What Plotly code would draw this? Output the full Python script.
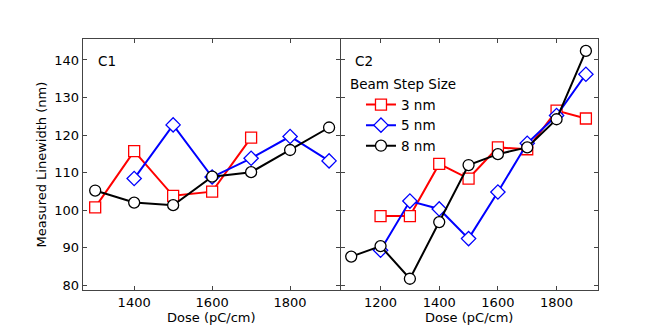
import plotly.graph_objects as go

c1_x_3 = [1300, 1400, 1500, 1600, 1700]
c1_y_3 = [100.7, 115.7, 103.8, 104.9, 119.3]
c1_x_5 = [1400, 1500, 1600, 1700, 1800, 1900]
c1_y_5 = [108.4, 122.7, 108.8, 113.8, 119.6, 113.1]
c1_x_8 = [1300, 1400, 1500, 1600, 1700, 1800, 1900]
c1_y_8 = [105.2, 102.0, 101.3, 108.9, 110.1, 116.0, 122.0]

c2_x_3 = [1200, 1300, 1400, 1500, 1600, 1700, 1800, 1900]
c2_y_3 = [98.4, 98.4, 112.3, 108.4, 116.7, 116.2, 126.5, 124.4]
c2_x_5 = [1200, 1300, 1400, 1500, 1600, 1700, 1800, 1900]
c2_y_5 = [89.3, 102.4, 100.3, 92.4, 104.8, 117.8, 125.2, 136.2]
c2_x_8 = [1100, 1200, 1300, 1400, 1500, 1600, 1700, 1800, 1900]
c2_y_8 = [87.6, 90.4, 81.7, 96.8, 112.0, 114.9, 116.7, 124.2, 142.4]

series_names = ["3 nm", "5 nm", "8 nm"]
colors = ["red", "blue", "black"]
symbols = ["square", "diamond", "circle"]
sizes = [11, 11, 11]

fig = go.Figure()
c1 = [(c1_x_3, c1_y_3), (c1_x_5, c1_y_5), (c1_x_8, c1_y_8)]
c2 = [(c2_x_3, c2_y_3), (c2_x_5, c2_y_5), (c2_x_8, c2_y_8)]

for panel, data in enumerate([c1, c2]):
    for i, (x, y) in enumerate(data):
        m = dict(symbol=symbols[i], size=sizes[i], color="white",
                 line=dict(color=colors[i], width=1.3))
        fig.add_trace(go.Scatter(
            x=x, y=y, mode="lines+markers", line=dict(color=colors[i], width=2),
            marker=m, name=series_names[i], showlegend=(panel == 1),
            xaxis="x" if panel == 0 else "x2", yaxis="y" if panel == 0 else "y2"))

font = dict(family="DejaVu Sans", size=13, color="black")
lfont = dict(family="DejaVu Sans", size=13.5, color="black")
axcommon = dict(showgrid=False, zeroline=False, showline=True, linecolor="#444", linewidth=1,
                mirror="ticks", ticks="inside", ticklen=4, tickcolor="#444", tickfont=font)

ydom = [0.1506, 0.9057]
yticks = [80, 90, 100, 110, 120, 130, 140]
fig.update_layout(
    width=664, height=332, margin=dict(l=0, r=0, t=0, b=0),
    paper_bgcolor="white", plot_bgcolor="white", font=font,
    xaxis=dict(domain=[0.1125, 0.5], range=[1268, 1928], tickvals=[1400, 1600, 1800],
               title=dict(text="Dose (pC/cm)", font=font, standoff=3), automargin=False, anchor="y", **axcommon),
    yaxis=dict(domain=ydom, range=[78.7, 145.5], tickvals=yticks,
               title=dict(text="Measured Linewidth (nm)", font=font, standoff=4), automargin=False, anchor="x", **axcommon),
    xaxis2=dict(domain=[0.501, 0.888], range=[1064, 1940], tickvals=[1200, 1400, 1600, 1800],
                title=dict(text="Dose (pC/cm)", font=font, standoff=3), automargin=False, anchor="y2", **axcommon),
    yaxis2=dict(domain=ydom, range=[78.7, 145.5], tickvals=yticks,
                showticklabels=False, automargin=False, anchor="x2", **axcommon),
    legend=dict(x=0.5316, y=0.755, xanchor="left", yanchor="top", bgcolor="rgba(0,0,0,0)",
                font=lfont, tracegroupgap=0, itemwidth=30),
    annotations=[
        dict(text="C1", x=0.1325, y=0.840, xref="paper", yref="paper", showarrow=False, font=lfont,
             xanchor="left", yanchor="middle"),
        dict(text="C2", x=0.520, y=0.840, xref="paper", yref="paper", showarrow=False, font=lfont,
             xanchor="left", yanchor="middle"),
        dict(text="Beam Step Size", x=0.5125, y=0.771, xref="paper", yref="paper", showarrow=False,
             font=lfont, xanchor="left", yanchor="middle"),
    ],
)

fig.write_html("out.html")
